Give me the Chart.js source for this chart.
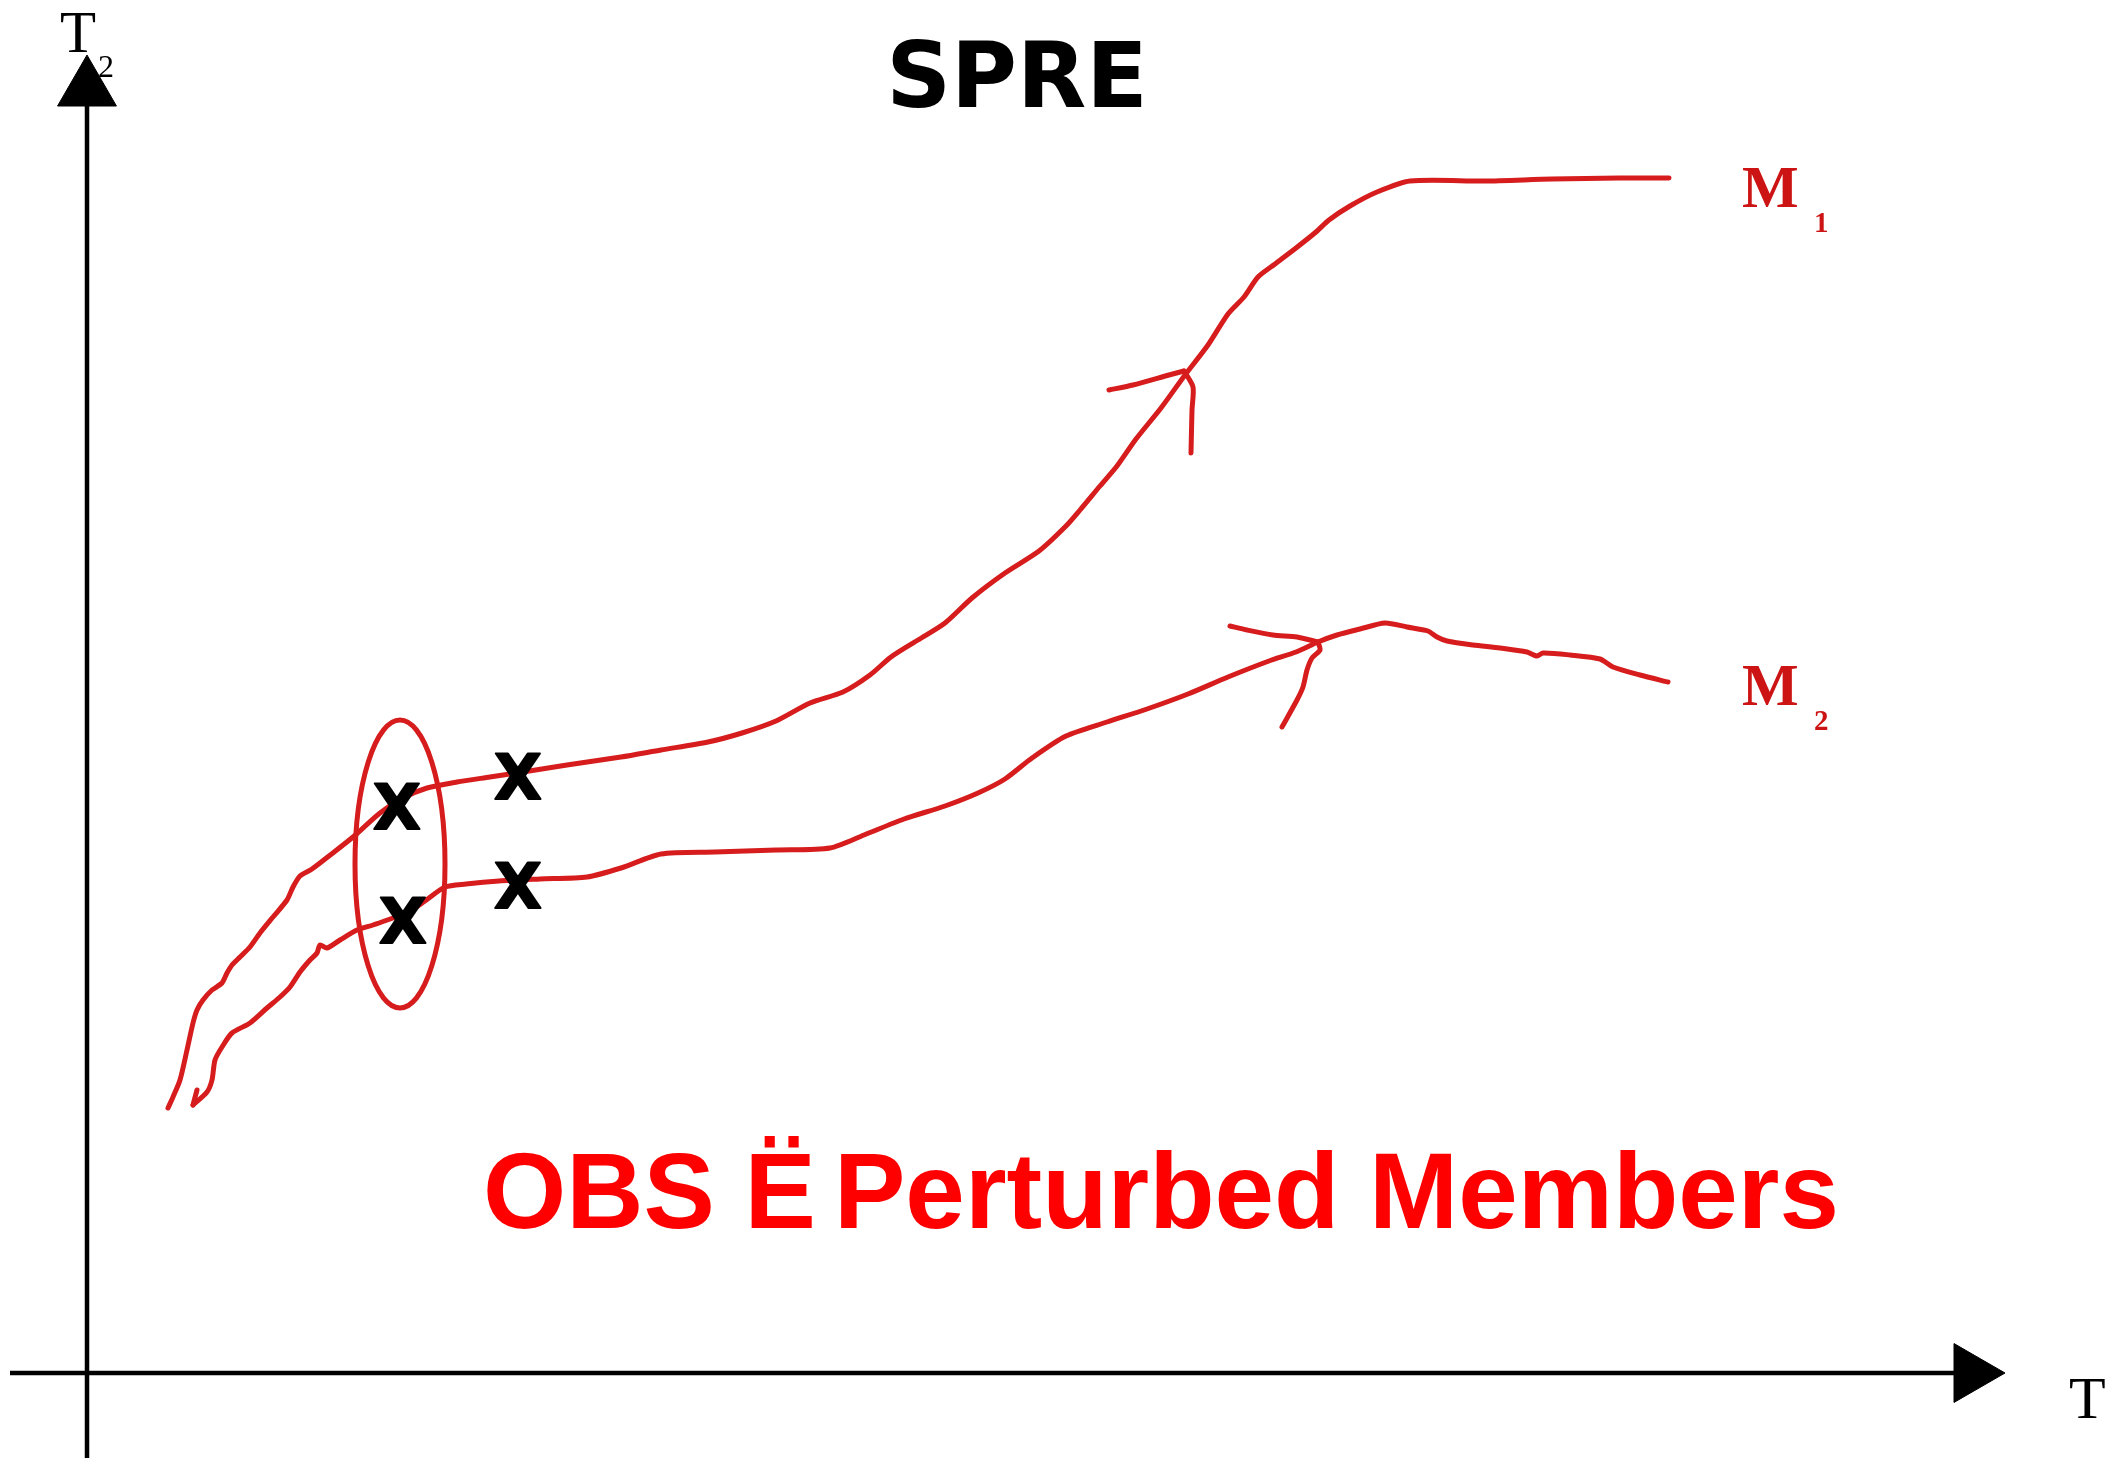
<!DOCTYPE html>
<html>
<head>
<meta charset="utf-8">
<title>SPRE</title>
<script src="https://cdn.jsdelivr.net/npm/chart.js@4.4.1/dist/chart.umd.min.js"></script>
<style>
  html, body { margin: 0; padding: 0; background: #fff; }
  #spre-chart { display: block; }
</style>
</head>
<body>
<canvas id="spre-chart" width="2116" height="1458"></canvas>
<script>
// trajectories in (T1, T2) units, origin where the two axes cross
const m1_curve = [[81,265],[86,276],[93,293],[100,323],[106,350],[110,363],[116,373],[125,383],[135,390],[140,400],[145,408],[153,416],[163,426],[173,440],[186,456],[200,473],[206,486],[213,497],[225,504],[242,517],[266,536],[293,560],[316,575],[340,585],[370,591],[403,596],[436,601],[480,608],[534,616],[574,623],[621,631],[655,640],[689,652],[723,670],[756,681],[783,698],[804,716],[831,733],[858,750],[885,775],[918,800],[952,822],[979,847],[993,863],[1013,887],[1030,907],[1049,934],[1074,965],[1098,998],[1121,1028],[1141,1059],[1157,1076],[1171,1096],[1188,1109],[1209,1125],[1229,1141],[1242,1153],[1263,1167],[1290,1181],[1323,1192],[1398,1192],[1465,1194],[1532,1195],[1582,1195]];
const m1_barb_left = [[1022,983],[1046,988],[1082,998],[1097,1002]];
const m1_barb_down = [[1097,1002],[1106,986],[1105,963],[1104,920]];

const m2_tick = [[110,283],[106,268]];
const m2_curve = [[106,268],[120,281],[125,293],[128,313],[135,326],[145,340],[163,350],[180,365],[193,376],[203,386],[213,401],[223,413],[230,420],[233,428],[240,425],[253,433],[270,443],[286,448],[306,455],[320,460],[338,472],[358,486],[379,489],[412,492],[453,494],[500,496],[534,505],[574,519],[628,521],[689,523],[743,525],[777,538],[817,554],[858,567],[891,580],[918,594],[945,615],[979,637],[1020,651],[1060,664],[1101,679],[1141,696],[1182,712],[1209,721],[1231,731],[1250,738],[1273,744],[1298,750],[1320,746],[1341,742],[1350,736],[1360,732],[1386,728],[1413,725],[1440,721],[1450,717],[1456,720],[1483,718],[1513,714],[1526,706],[1553,698],[1581,691]];
const m2_barb_left = [[1143,747],[1160,743],[1186,738],[1210,736],[1231,731]];
const m2_barb_down = [[1231,731],[1233,723],[1225,715],[1220,703],[1216,686],[1210,673],[1195,646]];

// obs / perturbed member positions (the X marks) and the ensemble ellipse
const obs_marks = [[310,567],[316,453],[431,597],[431,488]];
const ellipse_center = [[313,509]];

const axis_t2 = [[0,-85],[0,1284]];
const axis_t1 = [[-77,0],[1884,0]];

const LINE_RED = 'rgb(214, 28, 28)';
const LABEL_RED = 'rgb(204, 20, 20)';

const labels = [
    { text: 'SPRE', x: 930, y: 1266, font: 'bold 90px "DejaVu Sans"', color: '#000', align: 'center' },
    { text: 'T', x: -27, y: 1321, font: '59px "Liberation Serif"', color: '#000', align: 'left' },
    { text: '2', x: 11, y: 1296, font: '32px "Liberation Serif"', color: '#000', align: 'left' },
    { text: 'T', x: 1982, y: -45, font: '60px "Liberation Serif"', color: '#000', align: 'left' },
    { text: 'M', x: 1655, y: 1166, font: 'bold 60px "Liberation Serif"', color: LABEL_RED, align: 'left' },
    { text: '1', x: 1727, y: 1141, font: 'bold 29px "Liberation Serif"', color: LABEL_RED, align: 'left' },
    { text: 'M', x: 1655, y: 668, font: 'bold 60px "Liberation Serif"', color: LABEL_RED, align: 'left' },
    { text: '2', x: 1727, y: 643, font: 'bold 29px "Liberation Serif"', color: LABEL_RED, align: 'left' },
    { text: 'OBS \u00CB', x: 396, y: 145, font: 'bold 107px "Liberation Sans"', color: '#ff0000', align: 'left' },
    { text: 'Perturbed Members', x: 747, y: 145, font: 'bold 107px "Liberation Sans"', color: '#ff0000', align: 'left' },
];

function to_xy(points) {
    return points.map(p => ({ x: p[0], y: p[1] }));
}

function make_x_marker() {
    const c = document.createElement('canvas');
    c.width = 70;
    c.height = 70;
    const ctx = c.getContext('2d');
    ctx.fillStyle = '#000';
    ctx.strokeStyle = '#000';
    ctx.lineWidth = 2;
    ctx.lineJoin = 'round';
    ctx.font = 'bold 62px "DejaVu Sans"';
    ctx.textAlign = 'center';
    ctx.textBaseline = 'alphabetic';
    ctx.fillText('X', 35, 58);
    ctx.strokeText('X', 35, 58);
    return c;
}

function make_ellipse(rx, ry) {
    const c = document.createElement('canvas');
    c.width = rx * 2 + 10;
    c.height = ry * 2 + 10;
    const ctx = c.getContext('2d');
    ctx.strokeStyle = LINE_RED;
    ctx.lineWidth = 5;
    ctx.beginPath();
    ctx.ellipse(c.width / 2, c.height / 2, rx, ry, 0, 0, Math.PI * 2);
    ctx.stroke();
    return c;
}

function stroke_set(points, color) {
    return {
        data: to_xy(points),
        showLine: true,
        borderColor: color,
        borderWidth: 5,
        borderCapStyle: 'round',
        borderJoinStyle: 'round',
        tension: 0.25,
        pointRadius: 0,
        pointHoverRadius: 0,
    };
}

function axis_set(points, rotation) {
    return {
        data: to_xy(points),
        showLine: true,
        borderColor: '#000',
        borderWidth: 4.5,
        tension: 0,
        pointStyle: 'triangle',
        pointRadius: [0, 34],
        pointRotation: rotation,
        pointBackgroundColor: '#000',
        pointBorderColor: '#000',
        pointBorderWidth: 1,
    };
}

const label_plugin = {
    id: 'diagram_labels',
    afterDraw(chart) {
        const ctx = chart.ctx;
        const xs = chart.scales.x;
        const ys = chart.scales.y;
        ctx.save();
        ctx.textBaseline = 'alphabetic';
        labels.forEach(l => {
            ctx.font = l.font;
            ctx.fillStyle = l.color;
            ctx.textAlign = l.align;
            ctx.fillText(l.text, xs.getPixelForValue(l.x), ys.getPixelForValue(l.y));
        });
        ctx.restore();
    }
};

const ctx = document.getElementById('spre-chart').getContext('2d');
new Chart(ctx, {
    type: 'scatter',
    data: {
        datasets: [
            {
                data: to_xy(obs_marks),
                pointStyle: make_x_marker(),
                pointRadius: 30,
            },
            {
                data: to_xy(ellipse_center),
                pointStyle: make_ellipse(45, 144),
                pointRadius: 150,
            },
            stroke_set(m1_curve, LINE_RED),
            stroke_set(m1_barb_left, LINE_RED),
            stroke_set(m1_barb_down, LINE_RED),
            stroke_set(m2_tick, LINE_RED),
            stroke_set(m2_curve, LINE_RED),
            stroke_set(m2_barb_left, LINE_RED),
            stroke_set(m2_barb_down, LINE_RED),
            axis_set(axis_t2, 0),
            axis_set(axis_t1, 90),
        ]
    },
    options: {
        responsive: false,
        animation: false,
        layout: { padding: 0, autoPadding: false },
        scales: {
            x: { type: 'linear', min: -87, max: 2029, display: false },
            y: { type: 'linear', min: -85, max: 1373, display: false }
        },
        plugins: {
            legend: { display: false },
            tooltip: { enabled: false }
        }
    },
    plugins: [label_plugin]
});
</script>
</body>
</html>
